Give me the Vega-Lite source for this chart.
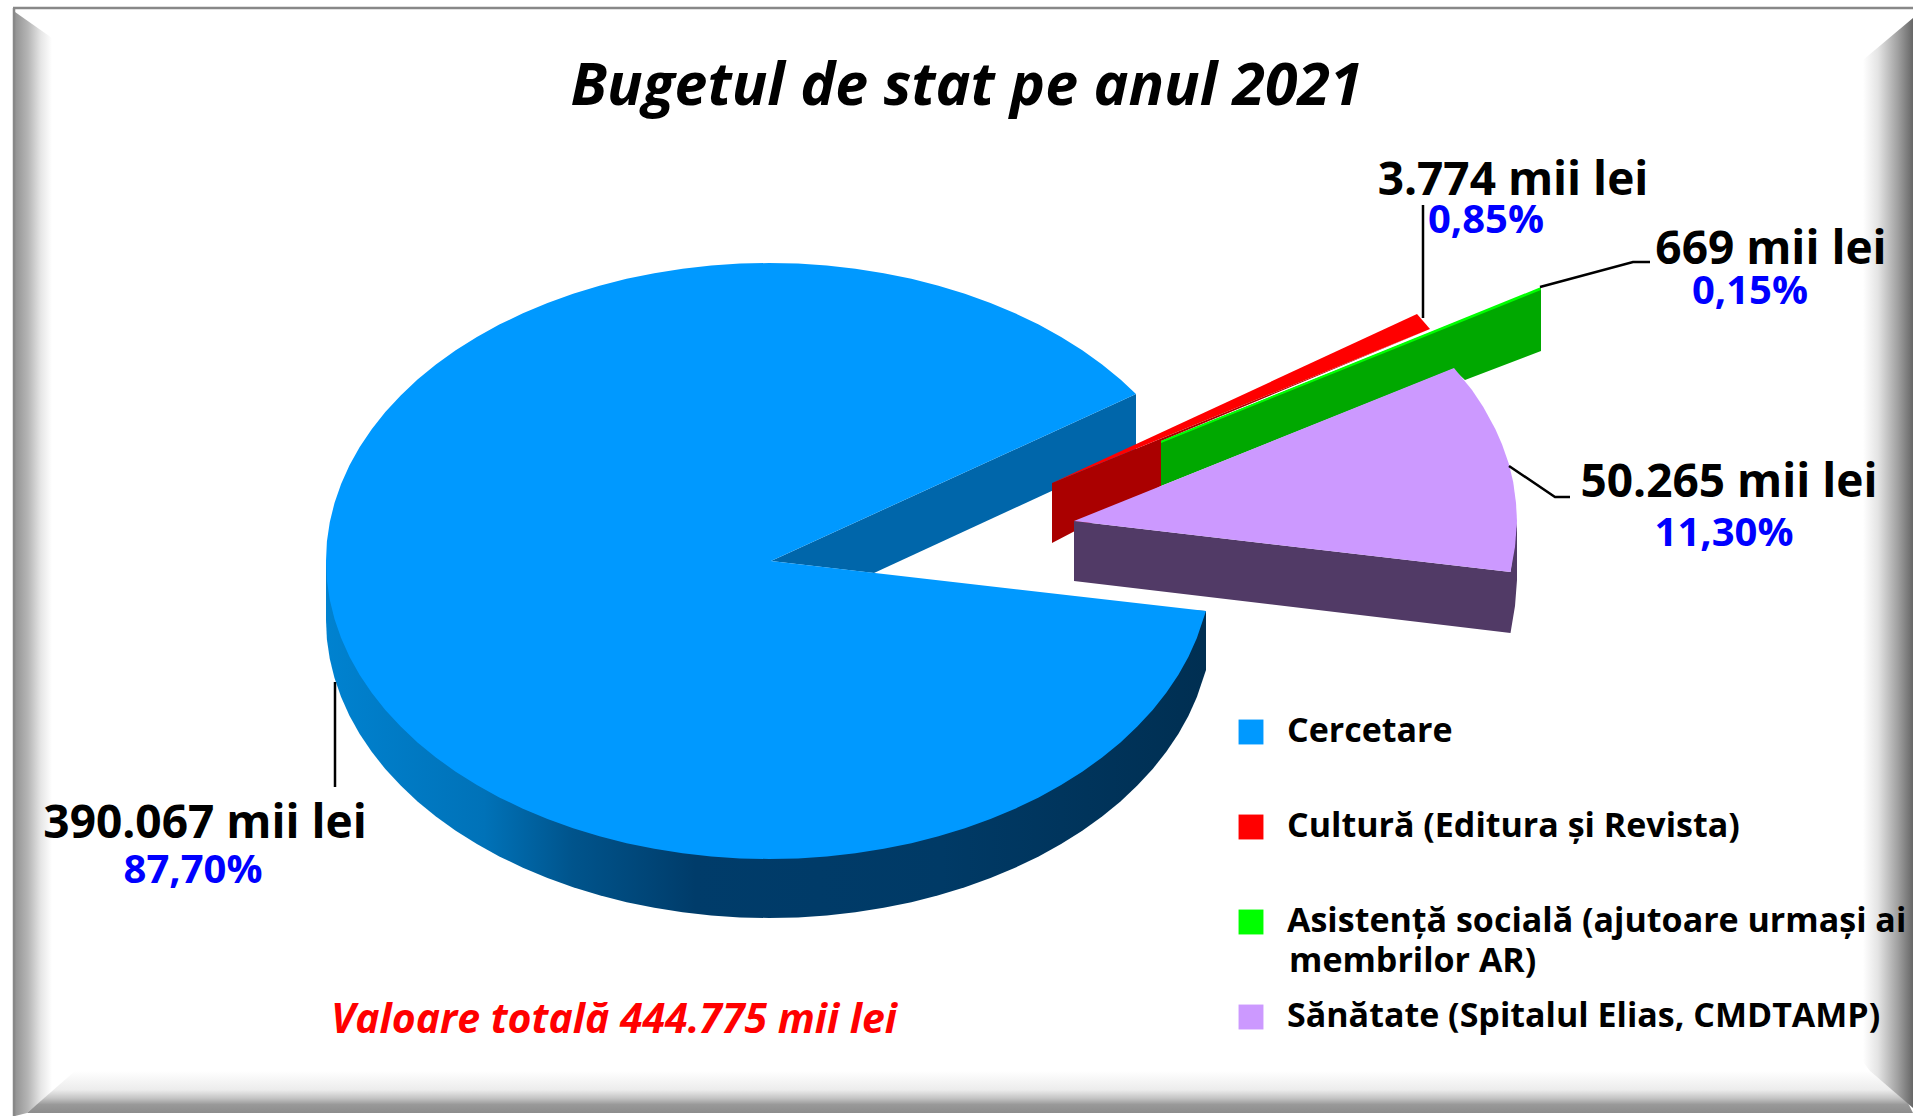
{"$schema":"https://vega.github.io/schema/vega-lite/v6.json","width":1913,"height":1116,"autosize":{"type":"none"},"padding":0,"background":"white",
"title":{"text":"Bugetul de stat pe anul 2021","font":"Open Sans","fontSize":59,"fontWeight":"bold","fontStyle":"italic","color":"black","anchor":"middle","frame":"group","orient":"top","dx":10,"dy":121},
"config":{"view":{"stroke":null},"text":{"font":"Open Sans","fontWeight":"bold"}},
"datasets":{
"rama":[
{"p":"stanga","i":1,"x":15,"y":12},{"p":"stanga","i":2,"x":52,"y":38},{"p":"stanga","i":3,"x":52,"y":1092},{"p":"stanga","i":4,"x":27,"y":1113},{"p":"stanga","i":5,"x":15,"y":1116},
{"p":"jos","i":1,"x":27,"y":1113},{"p":"jos","i":2,"x":75,"y":1071},{"p":"jos","i":3,"x":1870,"y":1071},{"p":"jos","i":4,"x":1908,"y":1103},{"p":"jos","i":5,"x":1913,"y":1113}],
"ramaDreapta":[{"i":1,"x":1913,"y":18},{"i":2,"x":1863,"y":60},{"i":3,"x":1863,"y":1062},{"i":4,"x":1870,"y":1071},{"i":5,"x":1913,"y":1108}],
"linii":[
{"l":"sus","i":1,"x":13,"y":8},{"l":"sus","i":2,"x":1913,"y":8},
{"l":"st","i":1,"x":14,"y":8},{"l":"st","i":2,"x":14,"y":1116},
{"l":"c","i":1,"x":1423,"y":205},{"l":"c","i":2,"x":1423,"y":318},
{"l":"a","i":1,"x":1540,"y":287},{"l":"a","i":2,"x":1633,"y":262},{"l":"a","i":3,"x":1650,"y":262},
{"l":"s","i":1,"x":1509,"y":466},{"l":"s","i":2,"x":1555,"y":497},{"l":"s","i":3,"x":1570,"y":497},
{"l":"r","i":1,"x":335,"y":682},{"l":"r","i":2,"x":335,"y":787}],
"peretePrincipal":[{"i":0,"x":326,"y":561},{"i":1,"x":326,"y":620},{"i":1.5,"x":326.9,"y":639.5},{"i":2,"x":329.8,"y":658.9},{"i":2.5,"x":334.5,"y":678.1},{"i":3,"x":341.1,"y":697.1},{"i":3.5,"x":349.5,"y":715.8},{"i":4,"x":359.7,"y":734},{"i":4.5,"x":371.7,"y":751.8},{"i":5,"x":385.3,"y":769},{"i":5.5,"x":400.7,"y":785.6},{"i":6,"x":417.5,"y":801.4},{"i":6.5,"x":435.9,"y":816.5},{"i":7,"x":455.7,"y":830.7},{"i":7.5,"x":476.9,"y":844},{"i":8,"x":499.3,"y":856.4},{"i":8.5,"x":522.9,"y":867.8},{"i":9,"x":547.5,"y":878.1},{"i":9.5,"x":573.1,"y":887.3},{"i":10,"x":599.5,"y":895.3},{"i":10.5,"x":626.6,"y":902.2},{"i":11,"x":654.3,"y":907.8},{"i":11.5,"x":682.6,"y":912.3},{"i":12,"x":711.2,"y":915.4},{"i":12.5,"x":740,"y":917.4},{"i":13,"x":769,"y":918},{"i":13.5,"x":798,"y":917.4},{"i":14,"x":826.8,"y":915.4},{"i":14.5,"x":855.4,"y":912.3},{"i":15,"x":883.7,"y":907.8},{"i":15.5,"x":911.4,"y":902.2},{"i":16,"x":938.5,"y":895.3},{"i":16.5,"x":964.9,"y":887.3},{"i":17,"x":990.5,"y":878.1},{"i":17.5,"x":1015.1,"y":867.8},{"i":18,"x":1038.7,"y":856.4},{"i":18.5,"x":1061.1,"y":844},{"i":19,"x":1082.3,"y":830.7},{"i":19.5,"x":1102.1,"y":816.5},{"i":20,"x":1120.5,"y":801.4},{"i":20.5,"x":1137.3,"y":785.6},{"i":21,"x":1152.7,"y":769},{"i":21.5,"x":1166.3,"y":751.8},{"i":22,"x":1178.3,"y":734},{"i":22.5,"x":1188.5,"y":715.8},{"i":23,"x":1196.9,"y":697.1},{"i":24,"x":1206,"y":670},{"i":25,"x":1206,"y":611}],
"pereti":[
{"p":"interior","i":1,"x":1136,"y":394},{"p":"interior","i":2,"x":1136,"y":452},{"p":"interior","i":3,"x":874,"y":573},{"p":"interior","i":4,"x":771,"y":561},
{"p":"cultura","i":1,"x":1052,"y":483},{"p":"cultura","i":2,"x":1052,"y":543},{"p":"cultura","i":3,"x":1161,"y":486},{"p":"cultura","i":4,"x":1161,"y":441},{"p":"cultura","i":5,"x":1430,"y":329},
{"p":"asistenta","i":1,"x":1161,"y":441},{"p":"asistenta","i":2,"x":1541,"y":288},{"p":"asistenta","i":3,"x":1541,"y":351},{"p":"asistenta","i":4,"x":1465,"y":380},{"p":"asistenta","i":5,"x":1453,"y":369},{"p":"asistenta","i":6,"x":1161,"y":486},
{"p":"sanatate","i":1,"x":1074,"y":521},{"p":"sanatate","i":2,"x":1074,"y":581},{"p":"sanatate","i":3,"x":1510.5,"y":633},{"p":"sanatate","i":4,"x":1515,"y":606},{"p":"sanatate","i":5,"x":1517,"y":580},{"p":"sanatate","i":6,"x":1517,"y":521},{"p":"sanatate","i":7,"x":1510.5,"y":572}],
"fete":[
{"categorie":"Cercetare","i":0,"x":771,"y":561},{"categorie":"Cercetare","i":1,"x":1136,"y":394},{"categorie":"Cercetare","i":2,"x":1120.5,"y":379.6},{"categorie":"Cercetare","i":2.5,"x":1102.1,"y":364.5},{"categorie":"Cercetare","i":3,"x":1082.3,"y":350.3},{"categorie":"Cercetare","i":3.5,"x":1061.1,"y":337},{"categorie":"Cercetare","i":4,"x":1038.7,"y":324.6},{"categorie":"Cercetare","i":4.5,"x":1015.1,"y":313.2},{"categorie":"Cercetare","i":5,"x":990.5,"y":302.9},{"categorie":"Cercetare","i":5.5,"x":964.9,"y":293.7},{"categorie":"Cercetare","i":6,"x":938.5,"y":285.7},{"categorie":"Cercetare","i":6.5,"x":911.4,"y":278.8},{"categorie":"Cercetare","i":7,"x":883.7,"y":273.2},{"categorie":"Cercetare","i":7.5,"x":855.4,"y":268.7},{"categorie":"Cercetare","i":8,"x":826.8,"y":265.6},{"categorie":"Cercetare","i":8.5,"x":798,"y":263.6},{"categorie":"Cercetare","i":9,"x":769,"y":263},{"categorie":"Cercetare","i":9.5,"x":740,"y":263.6},{"categorie":"Cercetare","i":10,"x":711.2,"y":265.6},{"categorie":"Cercetare","i":10.5,"x":682.6,"y":268.7},{"categorie":"Cercetare","i":11,"x":654.3,"y":273.2},{"categorie":"Cercetare","i":11.5,"x":626.6,"y":278.8},{"categorie":"Cercetare","i":12,"x":599.5,"y":285.7},{"categorie":"Cercetare","i":12.5,"x":573.1,"y":293.7},{"categorie":"Cercetare","i":13,"x":547.5,"y":302.9},{"categorie":"Cercetare","i":13.5,"x":522.9,"y":313.2},{"categorie":"Cercetare","i":14,"x":499.3,"y":324.6},{"categorie":"Cercetare","i":14.5,"x":476.9,"y":337},{"categorie":"Cercetare","i":15,"x":455.7,"y":350.3},{"categorie":"Cercetare","i":15.5,"x":435.9,"y":364.5},{"categorie":"Cercetare","i":16,"x":417.5,"y":379.6},{"categorie":"Cercetare","i":16.5,"x":400.7,"y":395.4},{"categorie":"Cercetare","i":17,"x":385.3,"y":412},{"categorie":"Cercetare","i":17.5,"x":371.7,"y":429.2},{"categorie":"Cercetare","i":18,"x":359.7,"y":447},{"categorie":"Cercetare","i":18.5,"x":349.5,"y":465.2},{"categorie":"Cercetare","i":19,"x":341.1,"y":483.9},{"categorie":"Cercetare","i":19.5,"x":334.5,"y":502.9},{"categorie":"Cercetare","i":20,"x":329.8,"y":522.1},{"categorie":"Cercetare","i":20.5,"x":326.9,"y":541.5},{"categorie":"Cercetare","i":21,"x":326,"y":561},{"categorie":"Cercetare","i":21.5,"x":326.9,"y":580.5},{"categorie":"Cercetare","i":22,"x":329.8,"y":599.9},{"categorie":"Cercetare","i":22.5,"x":334.5,"y":619.1},{"categorie":"Cercetare","i":23,"x":341.1,"y":638.1},{"categorie":"Cercetare","i":23.5,"x":349.5,"y":656.8},{"categorie":"Cercetare","i":24,"x":359.7,"y":675},{"categorie":"Cercetare","i":24.5,"x":371.7,"y":692.8},{"categorie":"Cercetare","i":25,"x":385.3,"y":710},{"categorie":"Cercetare","i":25.5,"x":400.7,"y":726.6},{"categorie":"Cercetare","i":26,"x":417.5,"y":742.4},{"categorie":"Cercetare","i":26.5,"x":435.9,"y":757.5},{"categorie":"Cercetare","i":27,"x":455.7,"y":771.7},{"categorie":"Cercetare","i":27.5,"x":476.9,"y":785},{"categorie":"Cercetare","i":28,"x":499.3,"y":797.4},{"categorie":"Cercetare","i":28.5,"x":522.9,"y":808.8},{"categorie":"Cercetare","i":29,"x":547.5,"y":819.1},{"categorie":"Cercetare","i":29.5,"x":573.1,"y":828.3},{"categorie":"Cercetare","i":30,"x":599.5,"y":836.3},{"categorie":"Cercetare","i":30.5,"x":626.6,"y":843.2},{"categorie":"Cercetare","i":31,"x":654.3,"y":848.8},{"categorie":"Cercetare","i":31.5,"x":682.6,"y":853.3},{"categorie":"Cercetare","i":32,"x":711.2,"y":856.4},{"categorie":"Cercetare","i":32.5,"x":740,"y":858.4},{"categorie":"Cercetare","i":33,"x":769,"y":859},{"categorie":"Cercetare","i":33.5,"x":798,"y":858.4},{"categorie":"Cercetare","i":34,"x":826.8,"y":856.4},{"categorie":"Cercetare","i":34.5,"x":855.4,"y":853.3},{"categorie":"Cercetare","i":35,"x":883.7,"y":848.8},{"categorie":"Cercetare","i":35.5,"x":911.4,"y":843.2},{"categorie":"Cercetare","i":36,"x":938.5,"y":836.3},{"categorie":"Cercetare","i":36.5,"x":964.9,"y":828.3},{"categorie":"Cercetare","i":37,"x":990.5,"y":819.1},{"categorie":"Cercetare","i":37.5,"x":1015.1,"y":808.8},{"categorie":"Cercetare","i":38,"x":1038.7,"y":797.4},{"categorie":"Cercetare","i":38.5,"x":1061.1,"y":785},{"categorie":"Cercetare","i":39,"x":1082.3,"y":771.7},{"categorie":"Cercetare","i":39.5,"x":1102.1,"y":757.5},{"categorie":"Cercetare","i":40,"x":1120.5,"y":742.4},{"categorie":"Cercetare","i":40.5,"x":1137.3,"y":726.6},{"categorie":"Cercetare","i":41,"x":1152.7,"y":710},{"categorie":"Cercetare","i":41.5,"x":1166.3,"y":692.8},{"categorie":"Cercetare","i":42,"x":1178.3,"y":675},{"categorie":"Cercetare","i":42.5,"x":1188.5,"y":656.8},{"categorie":"Cercetare","i":43,"x":1196.9,"y":638.1},{"categorie":"Cercetare","i":44,"x":1206,"y":611},
{"categorie":"Cultură (Editura și Revista)","i":1,"x":1052,"y":483},{"categorie":"Cultură (Editura și Revista)","i":2,"x":1417,"y":314},{"categorie":"Cultură (Editura și Revista)","i":3,"x":1430,"y":329},
{"categorie":"Asistență socială (ajutoare urmași ai","i":1,"x":1161,"y":441},{"categorie":"Asistență socială (ajutoare urmași ai","i":2,"x":1541,"y":287},{"categorie":"Asistență socială (ajutoare urmași ai","i":3,"x":1541,"y":290},{"categorie":"Asistență socială (ajutoare urmași ai","i":4,"x":1161,"y":443},
{"categorie":"Sănătate (Spitalul Elias, CMDTAMP)","i":1,"x":1074,"y":521},{"categorie":"Sănătate (Spitalul Elias, CMDTAMP)","i":2,"x":1454,"y":368},{"categorie":"Sănătate (Spitalul Elias, CMDTAMP)","i":3,"x":1472,"y":390},{"categorie":"Sănătate (Spitalul Elias, CMDTAMP)","i":4,"x":1483.3,"y":407},{"categorie":"Sănătate (Spitalul Elias, CMDTAMP)","i":5,"x":1495.3,"y":429},{"categorie":"Sănătate (Spitalul Elias, CMDTAMP)","i":6,"x":1501.9,"y":443.9},{"categorie":"Sănătate (Spitalul Elias, CMDTAMP)","i":7,"x":1508.9,"y":464},{"categorie":"Sănătate (Spitalul Elias, CMDTAMP)","i":8,"x":1513.2,"y":482.1},{"categorie":"Sănătate (Spitalul Elias, CMDTAMP)","i":9,"x":1516,"y":503},{"categorie":"Sănătate (Spitalul Elias, CMDTAMP)","i":10,"x":1517,"y":521},{"categorie":"Sănătate (Spitalul Elias, CMDTAMP)","i":11,"x":1515,"y":547},{"categorie":"Sănătate (Spitalul Elias, CMDTAMP)","i":12,"x":1510.5,"y":572}],
"valori":[
{"categorie":"Cercetare","valoare":"390.067 mii lei","x":205,"y":838},
{"categorie":"Cultură","valoare":"3.774 mii lei","x":1513,"y":195},
{"categorie":"Asistență socială","valoare":"669 mii lei","x":1771,"y":264},
{"categorie":"Sănătate","valoare":"50.265 mii lei","x":1729,"y":497}],
"procente":[
{"categorie":"Cercetare","procent":"87,70%","x":193,"y":883},
{"categorie":"Cultură","procent":"0,85%","x":1486,"y":233},
{"categorie":"Asistență socială","procent":"0,15%","x":1750,"y":304},
{"categorie":"Sănătate","procent":"11,30%","x":1724,"y":546}],
"note":[{"nota":"Valoare totală 444.775 mii lei","x":614,"y":1033}],
"legenda2":[{"nota":"membrilor AR)","x":1289,"y":972}]
},
"layer":[
{"data":{"name":"rama"},"transform":[{"filter":"datum.p=='stanga'"}],"mark":{"type":"line","filled":true,"strokeWidth":0,"fill":{"gradient":"linear","x1":0,"y1":0,"x2":1,"y2":0,"stops":[{"offset":0,"color":"#939393"},{"offset":0.35,"color":"#b5b5b5"},{"offset":0.7,"color":"#e6e6e6"},{"offset":1,"color":"#ffffff"}]}},"encoding":{"x":{"field":"x","type":"quantitative","scale":{"domain":[0,1913],"nice":false,"zero":false},"axis":null},"y":{"field":"y","type":"quantitative","scale":{"domain":[0,1116],"reverse":true,"nice":false,"zero":false},"axis":null},"order":{"field":"i"}}},
{"data":{"name":"rama"},"transform":[{"filter":"datum.p=='jos'"}],"mark":{"type":"line","filled":true,"strokeWidth":0,"fill":{"gradient":"linear","x1":0,"y1":0,"x2":0,"y2":1,"stops":[{"offset":0,"color":"#ffffff"},{"offset":0.45,"color":"#ececec"},{"offset":0.65,"color":"#c4c4c4"},{"offset":0.8,"color":"#999999"},{"offset":1,"color":"#8c8c8c"}]}},"encoding":{"x":{"field":"x","type":"quantitative","axis":null},"y":{"field":"y","type":"quantitative","axis":null},"order":{"field":"i"}}},
{"data":{"name":"ramaDreapta"},"mark":{"type":"line","filled":true,"strokeWidth":0,"fill":{"gradient":"linear","x1":0,"y1":0,"x2":1,"y2":0,"stops":[{"offset":0,"color":"#ffffff"},{"offset":0.3,"color":"#e4e4e4"},{"offset":0.7,"color":"#a0a0a0"},{"offset":1,"color":"#666666"}]}},"encoding":{"x":{"field":"x","type":"quantitative","axis":null},"y":{"field":"y","type":"quantitative","axis":null},"order":{"field":"i"}}},
{"data":{"name":"peretePrincipal"},"mark":{"type":"line","filled":true,"strokeWidth":0,"fill":{"gradient":"linear","x1":0,"y1":0,"x2":1,"y2":0,"stops":[{"offset":0,"color":"#0082d0"},{"offset":0.18,"color":"#0072b8"},{"offset":0.28,"color":"#00548c"},{"offset":0.42,"color":"#003c6a"},{"offset":0.7,"color":"#003a66"},{"offset":1,"color":"#002f52"}]}},"encoding":{"x":{"field":"x","type":"quantitative","axis":null},"y":{"field":"y","type":"quantitative","axis":null},"order":{"field":"i"}}},
{"layer":[
{"data":{"name":"pereti"},"mark":{"type":"line","filled":true,"strokeWidth":0},"encoding":{"x":{"field":"x","type":"quantitative","axis":null},"y":{"field":"y","type":"quantitative","axis":null},"order":{"field":"i"},"color":{"field":"p","type":"nominal","legend":null,"scale":{"domain":["interior","cultura","asistenta","sanatate"],"range":["#0066aa","#aa0000","#00a800","#513a66"]}}}}
]},
{"layer":[
{"data":{"name":"fete"},"mark":{"type":"line","filled":true,"strokeWidth":0},"encoding":{"x":{"field":"x","type":"quantitative","axis":null},"y":{"field":"y","type":"quantitative","axis":null},"order":{"field":"i"},"color":{"field":"categorie","type":"nominal","scale":{"domain":["Cercetare","Cultură (Editura și Revista)","Asistență socială (ajutoare urmași ai","Sănătate (Spitalul Elias, CMDTAMP)"],"range":["#0099ff","#ff0000","#00ff00","#cc99ff"]},"legend":{"title":null,"orient":"none","legendX":1234,"legendY":715,"symbolType":"square","symbolSize":620,"symbolStrokeWidth":0,"labelFont":"Open Sans","labelFontWeight":"bold","labelFontSize":34,"labelColor":"black","labelLimit":0,"labelOffset":19,"rowPadding":61}}}}
]},
{"data":{"name":"linii"},"mark":{"type":"line","stroke":"black","strokeWidth":2.5},"encoding":{"x":{"field":"x","type":"quantitative","axis":null},"y":{"field":"y","type":"quantitative","axis":null},"order":{"field":"i"},"detail":{"field":"l"},"stroke":{"field":"l","type":"nominal","legend":null,"scale":{"domain":["sus","st","c","a","s","r"],"range":["#888888","#888888","black","black","black","black"]}}}},
{"data":{"name":"valori"},"mark":{"type":"text","fontSize":46,"color":"black","align":"center","baseline":"alphabetic"},"encoding":{"x":{"field":"x","type":"quantitative","axis":null},"y":{"field":"y","type":"quantitative","axis":null},"text":{"field":"valoare"}}},
{"data":{"name":"procente"},"mark":{"type":"text","fontSize":40,"color":"#0000ff","align":"center","baseline":"alphabetic"},"encoding":{"x":{"field":"x","type":"quantitative","axis":null},"y":{"field":"y","type":"quantitative","axis":null},"text":{"field":"procent"}}},
{"data":{"name":"note"},"mark":{"type":"text","fontSize":41,"fontStyle":"italic","color":"#ff0000","align":"center","baseline":"alphabetic"},"encoding":{"x":{"field":"x","type":"quantitative","axis":null},"y":{"field":"y","type":"quantitative","axis":null},"text":{"field":"nota"}}},
{"data":{"name":"legenda2"},"mark":{"type":"text","fontSize":34,"color":"black","align":"left","baseline":"alphabetic"},"encoding":{"x":{"field":"x","type":"quantitative","axis":null},"y":{"field":"y","type":"quantitative","axis":null},"text":{"field":"nota"}}}
],
"resolve":{"scale":{"color":"independent","stroke":"independent"}}
}
